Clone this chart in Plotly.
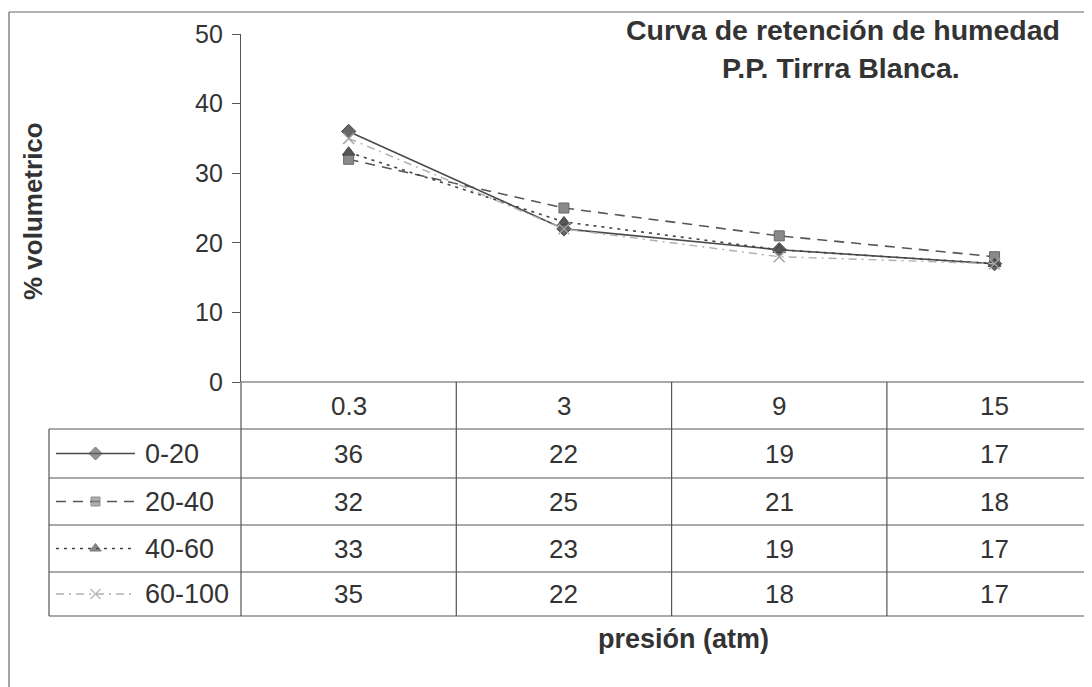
import plotly.graph_objects as go

# presión (atm) categories and % volumetrico per depth
presion = ["0.3", "3", "9", "15"]
series_names = ["0-20", "20-40", "40-60", "60-100"]
v_0_20 = [36, 22, 19, 17]
v_20_40 = [32, 25, 21, 18]
v_40_60 = [33, 23, 19, 17]
v_60_100 = [35, 22, 18, 17]
y_ticks = [0, 10, 20, 30, 40, 50]

# the page has an 8px body margin; the figure fills the rest of the window
OX, OY = 8, 8
W, H = 1092 - OX, 687 - OY
FONT = "Liberation Sans, Arial, sans-serif"
TXT = "#333333"
GRID = "#555555"

def px(x):
    return (x - OX) / W

def fig_y(y):
    return y - OY

def py(y):
    return 1 - fig_y(y) / H

styles = [
    dict(line=dict(color="#4a4a4a", width=1.6, dash="solid"),
         marker=dict(symbol="diamond", size=11, color="#666666", line=dict(color="#444", width=1))),
    dict(line=dict(color="#555555", width=1.6, dash="10px,7px"),
         marker=dict(symbol="square", size=10, color="#8a8a8a", line=dict(color="#666", width=1))),
    dict(line=dict(color="#444444", width=1.6, dash="3px,5px"),
         marker=dict(symbol="triangle-up", size=11, color="#555555", line=dict(color="#444", width=1))),
    dict(line=dict(color="#b0b0b0", width=1.4, dash="8px,5px,2px,5px"),
         marker=dict(symbol="x-thin", size=11, color="#a0a0a0", line=dict(color="#a0a0a0", width=1.4))),
]
all_vals = [v_0_20, v_20_40, v_40_60, v_60_100]

fig = go.Figure()
x_idx = list(range(len(presion)))
for name, vals, st in zip(series_names, all_vals, styles):
    fig.add_trace(go.Scatter(x=x_idx, y=vals, name=name, mode="lines+markers",
                             line=st["line"], marker=st["marker"], showlegend=False))

# data table geometry (window pixels)
axis_x = 241
col_w = 215.3
y_zero, y_top = 382, 34
row_lines = [382, 429, 478, 525, 572, 616]
leg_left = 49

x_end = -0.5 + (OX + W - axis_x) / col_w

# legend keys in the table, drawn on an overlay pixel axis
key_x0, key_x1 = 56, 135
for i, (name, st) in enumerate(zip(series_names, styles)):
    yc = fig_y((row_lines[i + 1] + row_lines[i + 2]) / 2)
    fig.add_trace(go.Scatter(x=[key_x0, (key_x0 + key_x1) / 2, key_x1], y=[yc, yc, yc],
                             mode="lines+markers", line=st["line"],
                             marker=dict(st["marker"], size=[0, st["marker"]["size"] - 1, 0]),
                             xaxis="x2", yaxis="y2", showlegend=False, hoverinfo="skip"))

line_style = dict(color=GRID, width=1.2)
shapes = []
# outer chart border (left and top; right/bottom fall outside the picture)
shapes.append(dict(type="line", xref="paper", yref="paper", x0=px(9), x1=px(9),
                   y0=0, y1=py(12), line=dict(color="#666", width=1.2)))
shapes.append(dict(type="line", xref="paper", yref="paper", x0=px(9), x1=1,
                   y0=py(12), y1=py(12), line=dict(color="#666", width=1.2)))
# horizontal table lines
for k, yl in enumerate(row_lines):
    x0 = axis_x if k == 0 else leg_left
    shapes.append(dict(type="line", xref="paper", yref="paper", x0=px(x0), x1=1,
                       y0=py(yl), y1=py(yl), line=line_style))
# vertical table lines
shapes.append(dict(type="line", xref="paper", yref="paper", x0=px(leg_left), x1=px(leg_left),
                   y0=py(row_lines[1]), y1=py(row_lines[-1]), line=line_style))
shapes.append(dict(type="line", xref="paper", yref="paper", x0=px(axis_x), x1=px(axis_x),
                   y0=py(y_zero), y1=py(row_lines[-1]), line=line_style))
for b in [0.5, 1.5, 2.5]:
    shapes.append(dict(type="line", xref="x", yref="paper", x0=b, x1=b,
                       y0=py(row_lines[-1]), y1=py(y_zero), line=line_style))

def txt(x, y, text, size, xref="paper", xanchor="center", angle=0):
    return dict(x=x, xref=xref, y=y, yref="paper", text=text, showarrow=False,
                xanchor=xanchor, yanchor="middle", textangle=angle,
                font=dict(size=size, color=TXT, family=FONT))

annotations = []
# category header row
for i, c in enumerate(presion):
    annotations.append(txt(i, py((row_lines[0] + row_lines[1]) / 2), c, 26, xref="x"))
# value rows and legend labels
for r, (name, vals) in enumerate(zip(series_names, all_vals)):
    yc = py((row_lines[r + 1] + row_lines[r + 2]) / 2)
    annotations.append(txt(px(143), yc, name, 27, xanchor="left"))
    for i, v in enumerate(vals):
        annotations.append(txt(i, yc, str(v), 26, xref="x"))

# titles
annotations.append(txt(px(843), py(30), "<b>Curva de retención de humedad</b>", 28.5))
annotations.append(txt(px(841), py(68), "<b>P.P. Tirrra Blanca.</b>", 28.5))
annotations.append(txt(px(33), py(211), "<b>% volumetrico</b>", 26, angle=-90))
annotations.append(txt(px(683), py(639), "<b>presión (atm)</b>", 27))

fig.update_layout(
    width=W, height=H,
    margin=dict(l=0, r=0, t=0, b=0, autoexpand=False),
    paper_bgcolor="white", plot_bgcolor="rgba(0,0,0,0)",
    xaxis=dict(domain=[px(axis_x), 1], range=[-0.5, x_end], showticklabels=False,
               showgrid=False, zeroline=False, showline=False, ticks="", automargin=False),
    yaxis=dict(domain=[py(y_zero), py(y_top)], range=[0, 50], tickvals=y_ticks,
               showgrid=False, zeroline=False, showline=True, linecolor=GRID, linewidth=1.2,
               ticks="outside", ticklen=8, tickcolor=GRID, ticklabelstandoff=4,
               automargin=False, tickfont=dict(size=25, color=TXT, family=FONT)),
    xaxis2=dict(domain=[0, 1], range=[OX, OX + W], visible=False, anchor="y2", automargin=False),
    yaxis2=dict(domain=[0, 1], range=[H, 0], visible=False, anchor="x2", automargin=False),
    shapes=shapes,
    annotations=annotations,
)

fig.write_html("out.html")
